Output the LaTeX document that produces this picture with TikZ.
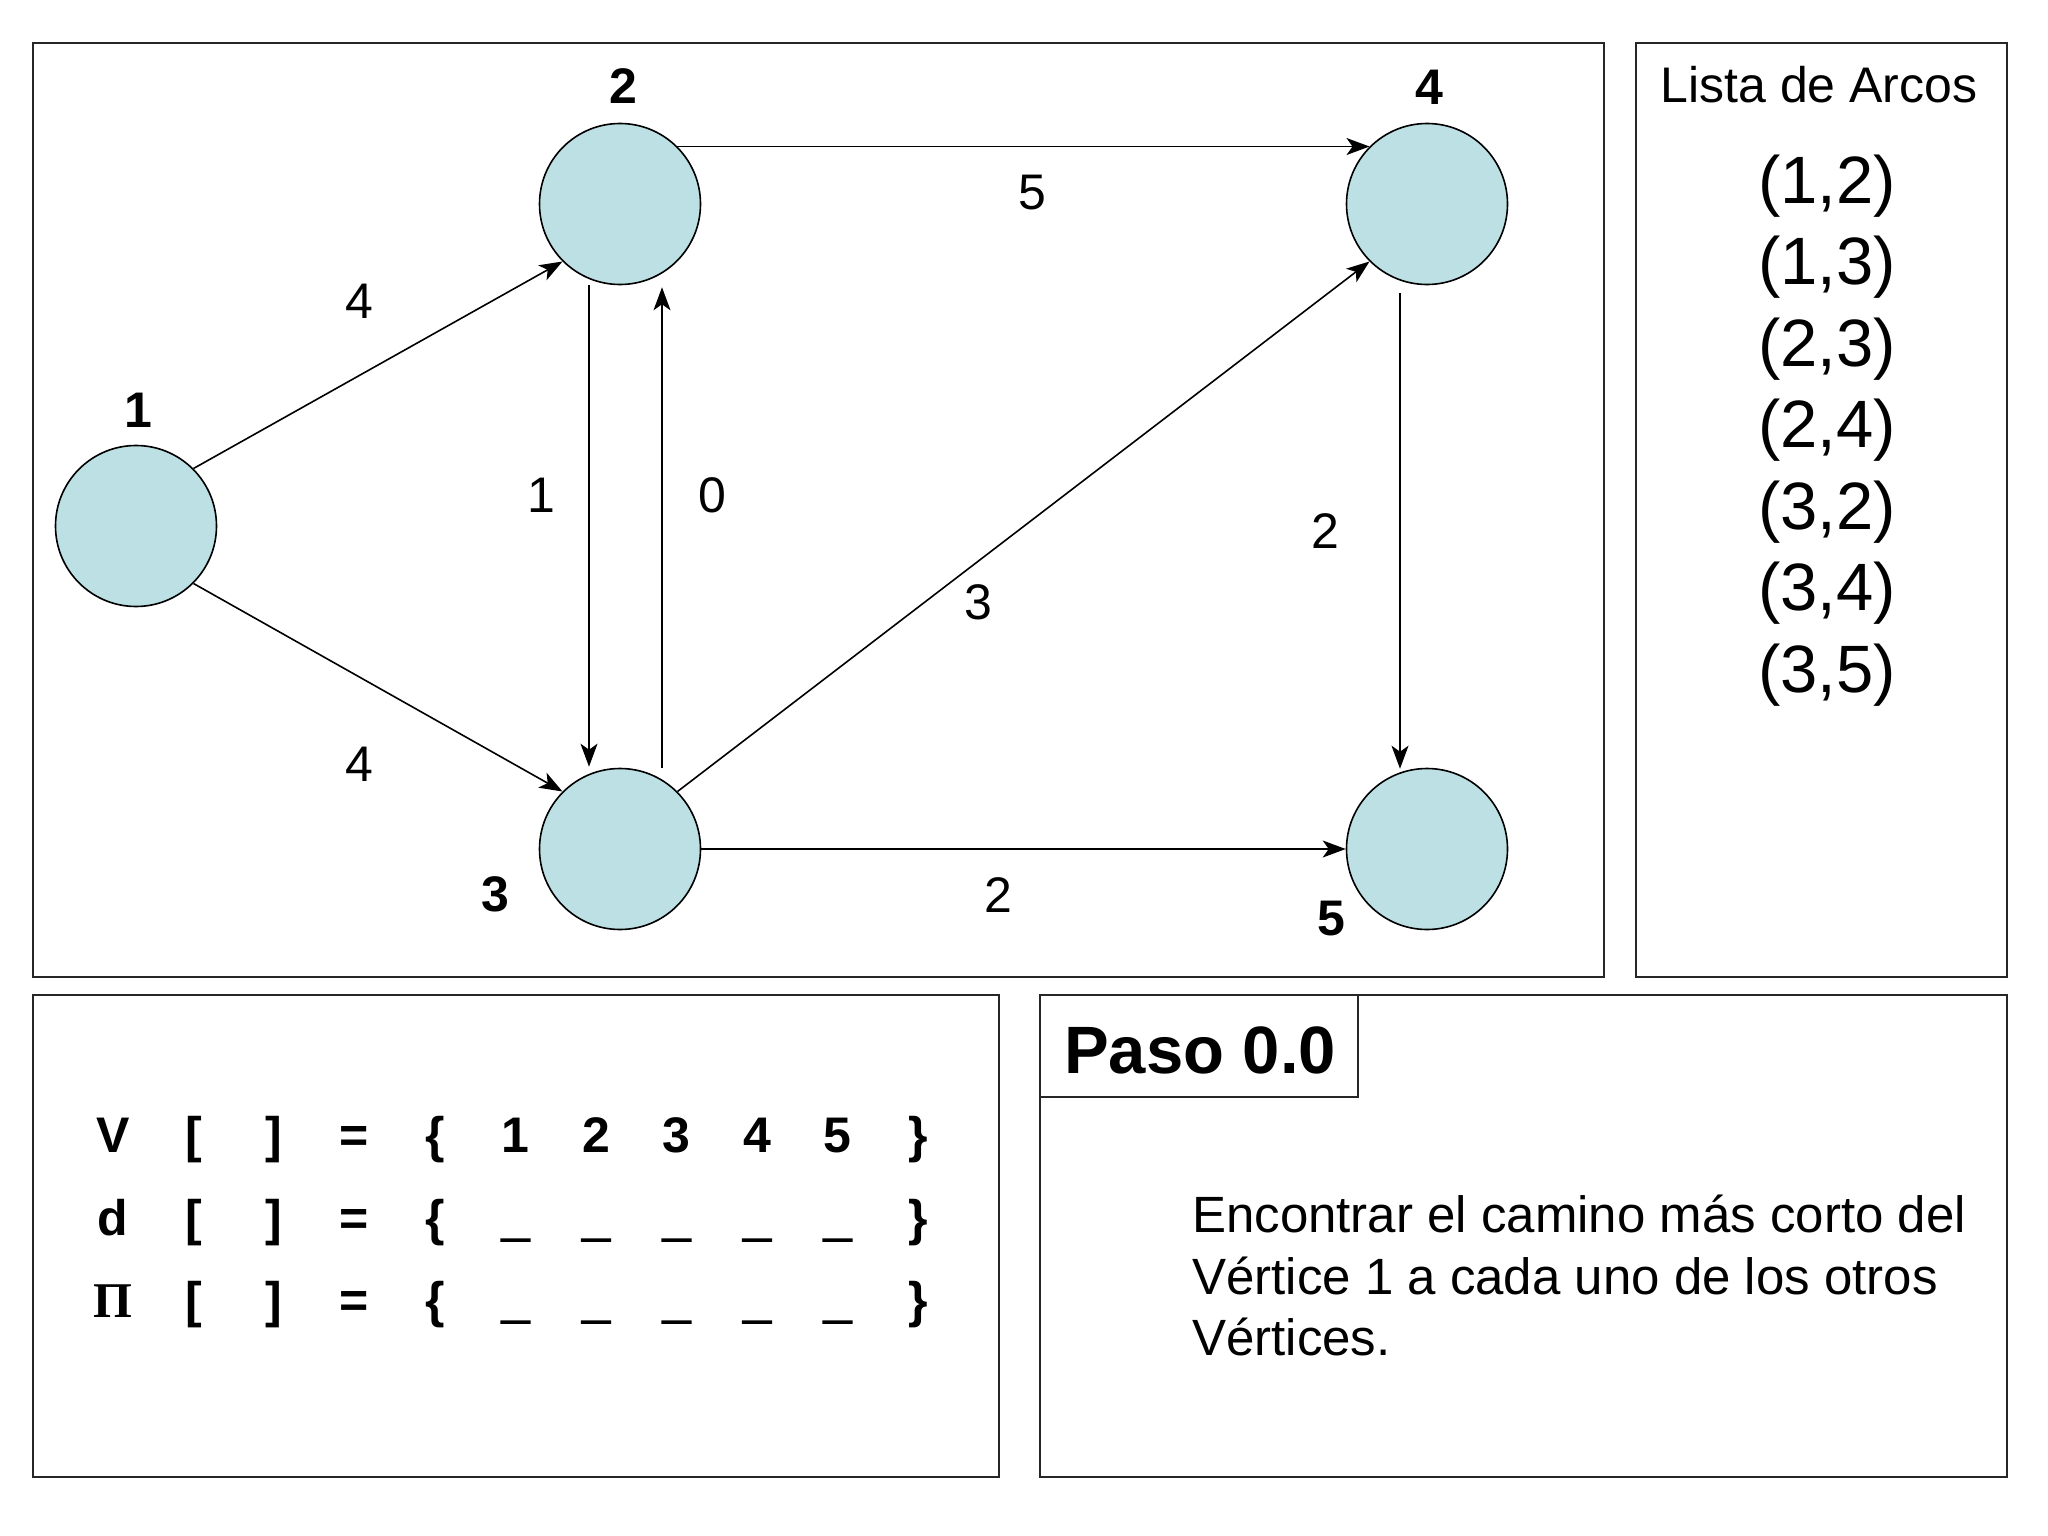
\documentclass[tikz,border=0pt]{standalone}
\usepackage{fontspec}
\setmainfont{Liberation Sans}
\newfontfamily\serifgr{Liberation Serif}
\newfontfamily\ulfont[FakeBold=3]{Liberation Sans Bold}
\usetikzlibrary{arrows.meta}
\definecolor{nodefill}{RGB}{188,224,227}
\begin{document}
\begin{tikzpicture}[x=1pt,y=-1pt,
  frame/.style={draw=black!85,line width=2.2pt},
  vertex/.style={circle,draw,line width=1.6pt,fill=nodefill,minimum size=161pt,inner sep=0pt},
  arc/.style={line width=1.6pt,-{Stealth[length=23pt,width=17pt,inset=6pt]}},
  vlabel/.style={font=\fontsize{50}{60}\selectfont\bfseries,inner sep=0pt,anchor=base},
  wlabel/.style={font=\fontsize{50}{60}\selectfont,inner sep=0pt,anchor=base},
  tbl/.style={font=\fontsize{50}{60}\selectfont\bfseries,inner sep=0pt,anchor=base},
  arcs/.style={font=\fontsize{67}{80}\selectfont,inner sep=0pt,anchor=base},
  desc/.style={font=\fontsize{51}{61}\selectfont,inner sep=0pt,anchor=base west}
]
\useasboundingbox[fill=white] (0,0) rectangle (2048,1536);

% frames
\draw[frame] (33,43) rectangle (1604,977);
\draw[frame] (1636,43) rectangle (2007,977);
\draw[frame] (33,995) rectangle (999,1477);
\draw[frame] (1040,995) rectangle (2007,1477);
\draw[frame] (1040,995) rectangle (1358,1097);

% vertices
\node[vertex] (n1) at (136,526) {};
\node[vertex] (n2) at (620,204) {};
\node[vertex] (n3) at (620,849) {};
\node[vertex] (n4) at (1427,204) {};
\node[vertex] (n5) at (1427,849) {};

% vertex labels
\node[vlabel] (l1) at (138,427) {1};
\node[vlabel] (l2) at (623,104) {2};
\node[vlabel] (l3) at (495,911) {3};
\node[vlabel] (l4) at (1429,105) {4};
\node[vlabel] (l5) at (1331,935) {5};

% arcs
\draw[arc] (n1.45) -- (n2.225);
\draw[arc] (n1.-45) -- (n3.135);
\draw[arc] (n2.45) -- (n4.135);
\draw[arc] ([xshift=-31pt]n2.south) -- ([xshift=-31pt,yshift=1pt]n3.north);
\draw[arc] ([xshift=42pt]n3.north) -- ([xshift=42pt,yshift=-2pt]n2.south);
\draw[arc] (n3.45) -- (n4.225);
\draw[arc] ([xshift=-27pt,yshift=-8pt]n4.south) -- ([xshift=-27pt,yshift=-1pt]n5.north);
\draw[arc] (n3.east) -- (n5.west);

% weights
\node[wlabel] (w12) at (359,318) {4};
\node[wlabel] (w13) at (359,781) {4};
\node[wlabel] (w24) at (1032,209) {5};
\node[wlabel] (w23) at (541,512) {1};
\node[wlabel] (w32) at (712,512) {0};
\node[wlabel] (w34) at (978,619) {3};
\node[wlabel] (w45) at (1325,548) {2};
\node[wlabel] (w35) at (998,912) {2};

% list of arcs
\node[font=\fontsize{50}{60}\selectfont,inner sep=0pt,anchor=base] (lt) at (1819,103) {Lista de Arcos};
\foreach \t [count=\i] in {{(1,2)},{(1,3)},{(2,3)},{(2,4)},{(3,2)},{(3,4)},{(3,5)}}
  \node[arcs] (a\i) at (1827,{203+81.5*(\i-1)}) {\t};

% table
\foreach \t [count=\i] in {V,{[},{]},=,\{,1,2,3,4,5,\}}
  \node[tbl] (ra\i) at ({113+80.5*(\i-1)},1152) {\t};
\foreach \t [count=\i] in {d,{[},{]},=,\{,{\ulfont\_},{\ulfont\_},{\ulfont\_},{\ulfont\_},{\ulfont\_},\}}
  \node[tbl] (rb\i) at ({113+80.5*(\i-1)},1235) {\t};
\foreach \t [count=\i] in {{\serifgr Π},{[},{]},=,\{,{\ulfont\_},{\ulfont\_},{\ulfont\_},{\ulfont\_},{\ulfont\_},\}}
  \node[tbl] (rc\i) at ({113+80.5*(\i-1)},1317) {\t};

% step box
\node[font=\fontsize{67}{80}\selectfont\bfseries,inner sep=0pt,anchor=base west] (paso) at (1064,1073) {Paso 0.0};

% description
\node[desc] (d1) at (1192,1232) {Encontrar el camino más corto del};
\node[desc] (d2) at (1192,1294) {Vértice 1 a cada uno de los otros};
\node[desc] (d3) at (1192,1355) {Vértices.};
\end{tikzpicture}
\end{document}
